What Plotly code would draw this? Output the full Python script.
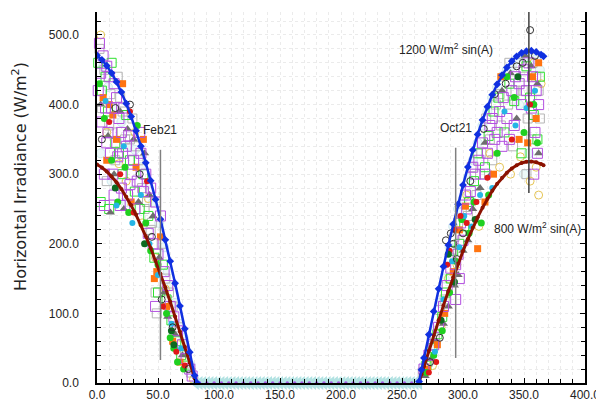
import plotly.graph_objects as go

# ---------------- data ----------------
# model curves: 1200 W/m2 sin(A) and 800 W/m2 sin(A)
left_days = [0, 4, 8, 12, 16, 20, 24, 28, 32, 36, 40, 44, 48, 52, 56, 60, 64, 68, 72, 76, 80, 82]
left_blue = [470.7, 464.3, 455.8, 445.2, 432.6, 418.0, 401.4, 382.8, 362.4, 340.2, 316.3, 290.7,
             263.7, 235.4, 205.7, 175.0, 143.3, 110.8, 77.8, 44.3, 10.6, 0.0]
left_red = [313.8, 309.5, 303.9, 296.8, 288.4, 278.7, 267.6, 255.2, 241.6, 226.8, 210.8, 193.8,
            175.8, 156.9, 137.1, 116.6, 95.5, 73.9, 51.9, 29.5, 7.0, 0.0]

right_days = [264, 266, 268, 272, 276, 280, 284, 288, 292, 296, 300, 304, 308, 312, 316, 320,
              324, 328, 332, 336, 340, 344, 348, 352, 356, 360, 364, 366]
right_blue = [2.1, 19.0, 36.0, 69.6, 102.8, 135.3, 167.3, 198.2, 228.2, 256.8, 284.3, 310.2,
              334.6, 357.1, 377.9, 396.9, 414.1, 429.2, 442.3, 453.3, 462.4, 469.3, 474.1,
              476.7, 477.3, 475.7, 471.9, 469.3]
right_red = [1.4, 12.7, 24.0, 46.4, 68.5, 90.2, 111.5, 132.1, 152.1, 171.2, 189.5, 206.8,
             223.0, 238.0, 251.9, 264.6, 276.1, 286.1, 294.9, 302.2, 308.2, 312.9, 316.1,
             317.8, 318.2, 317.1, 314.6, 312.9]

# polar night: measured zeros
zero_days = [81, 84, 87, 90, 93, 96, 99, 102, 105, 108, 111, 114, 117, 120, 123, 126, 129, 132,
             135, 138, 141, 144, 147, 150, 153, 156, 159, 162, 165, 168, 171, 174, 177, 180, 183,
             186, 189, 192, 195, 198, 201, 204, 207, 210, 213, 216, 219, 222, 225, 228, 231, 234,
             237, 240, 243, 246, 249, 252, 255, 258, 261, 264]
zero_vals = [0, 0, 0, 0, 0, 0, 0, 0, 0, 0, 0, 0, 0, 0, 0, 0, 0, 0, 0, 0, 0, 0, 0, 0, 0, 0, 0, 0,
             0, 0, 0, 0, 0, 0, 0, 0, 0, 0, 0, 0, 0, 0, 0, 0, 0, 0, 0, 0, 0, 0, 0, 0, 0, 0, 0, 0,
             0, 0, 0, 0, 0, 0]
zero_days2 = [84, 90, 96, 102, 108, 114, 120, 126, 132, 138, 144, 150, 156, 162, 168, 174, 180,
              186, 192, 198, 204, 210, 216, 222, 228, 234, 240, 246, 252, 258]
zero_vals2 = [0, 0, 0, 0, 0, 0, 0, 0, 0, 0, 0, 0, 0, 0, 0, 0, 0, 0, 0, 0, 0, 0, 0, 0, 0, 0, 0, 0, 0, 0]

# measured data (day, W/m2), one list per marker style
pale_circles = [(5, 455), (9, 425), (14, 395), (20, 375), (26, 340), (31, 335), (36, 310), (41, 285),
                (46, 260), (51, 230), (55, 195), (58, 160), (61, 140), (64, 115), (68, 85), (71, 65),
                (74, 45), (77, 25), (3, 330), (12, 290), (24, 260),
                (268, 25), (273, 50), (277, 75), (281, 115), (285, 150), (289, 195), (292, 225),
                (296, 250), (300, 265), (304, 295), (308, 320), (312, 345), (316, 370), (320, 390),
                (324, 410), (328, 425), (332, 440), (336, 450), (340, 455), (344, 465), (348, 470),
                (352, 470), (356, 470), (360, 465), (363, 450), (346, 400), (354, 330), (350, 300)]
gray_squares = [(2, 480), (6, 450), (11, 415), (17, 440), (13, 360), (19, 410), (23, 350), (29, 380),
                (32, 340), (37, 280), (41, 260), (45, 230), (48, 130), (49, 100), (53, 200), (56, 150),
                (59, 130), (62, 110), (67, 80), (72, 45), (77, 15), (8, 290),
                (4, 395), (10, 370), (15, 320), (21, 390), (27, 350), (34, 320), (39, 250), (44, 220),
                (267, 15), (271, 30), (277, 65), (281, 105), (285, 120), (289, 180), (293, 210),
                (296, 230), (299, 245), (304, 240), (307, 310), (311, 270), (315, 330), (319, 380),
                (324, 320), (327, 400), (331, 370), (337, 400), (341, 340), (345, 460), (349, 420),
                (353, 380), (357, 460), (360, 440), (363, 380), (352, 300),
                (314, 300), (322, 350), (330, 415), (338, 460), (343, 420), (350, 440), (356, 350),
                (362, 420)]
green_squares = [(1, 460), (4, 420), (7, 440), (9, 390), (12, 460), (15, 345), (18, 330), (21, 300),
                 (24, 385), (27, 320), (31, 275), (35, 250), (38, 300), (42, 240), (47, 180), (50, 130),
                 (54, 170), (57, 120), (61, 90), (65, 60), (69, 40), (74, 25), (3, 260), (10, 250),
                 (270, 25), (275, 50), (279, 70), (283, 95), (286, 130), (290, 150), (292, 190),
                 (297, 200), (301, 225), (305, 260), (309, 290), (312, 330), (318, 310), (321, 355),
                 (325, 390), (329, 410), (334, 360), (338, 430), (342, 405), (348, 330), (352, 455),
                 (355, 410), (358, 385), (361, 350), (363, 440)]
purple_squares = [(2, 488), (5, 470), (8, 455), (10, 440), (12, 395), (14, 430), (16, 410), (4, 375),
                  (8, 345), (11, 330), (18, 380), (20, 360), (22, 395), (24, 340), (26, 355), (28, 300),
                  (30, 320), (20, 280), (14, 270), (33, 290), (36, 330), (40, 300), (44, 280),
                  (48, 260), (52, 240), (46, 200), (50, 185), (48, 110), (55, 160), (58, 140),
                  (60, 110), (63, 95), (66, 75), (70, 55), (73, 35), (76, 20), (78, 10), (6, 300),
                  (25, 270), (1, 420), (3, 445), (7, 395), (9, 360), (13, 300), (17, 325), (21, 330),
                  (27, 285), (31, 250), (35, 360), (38, 275), (42, 215), (6, 255), (19, 255),
                  (268, 20), (272, 40), (276, 55), (280, 80), (284, 110), (287, 140), (290, 165),
                  (294, 170), (296, 185), (298, 230), (300, 205), (303, 250), (306, 275), (310, 300),
                  (313, 320), (316, 345), (320, 330), (322, 370), (326, 350), (330, 390), (333, 410),
                  (336, 380), (340, 420), (343, 440), (346, 430), (350, 450), (354, 460), (357, 440),
                  (360, 420), (362, 400), (359, 360), (356, 395), (294, 120), (297, 150),
                  (302, 270), (308, 310), (318, 300), (324, 380), (328, 360), (332, 340), (338, 350),
                  (342, 370), (348, 400), (352, 420), (358, 300), (361, 330)]
gray_triangles = [(3, 400), (9, 355), (14, 300), (19, 390), (25, 365), (30, 350), (34, 260), (39, 330),
                  (43, 270), (46, 240), (51, 180), (55, 130), (58, 95), (64, 70), (70, 40), (11, 245),
                  (22, 250),
                  (269, 10), (274, 35), (278, 60), (284, 85), (288, 110), (293, 140), (296, 155),
                  (300, 190), (304, 205), (308, 250), (314, 280), (318, 345), (323, 300), (332, 420),
                  (339, 445), (344, 380), (351, 470), (356, 455), (361, 430), (362, 330)]
orange_squares = [(5, 410), (10, 400), (13, 385), (16, 350), (21, 430), (8, 320), (28, 260), (32, 310),
                  (38, 350), (47, 150), (49, 160), (52, 210), (57, 110), (62, 60), (68, 30),
                  (271, 20), (279, 55), (285, 100), (292, 160), (297, 220), (302, 254), (312, 193),
                  (318, 260), (325, 300), (331, 440), (346, 350), (353, 345), (357, 440), (360, 380),
                  (362, 460)]
green_dots = [(2, 430), (6, 380), (12, 320), (17, 260), (23, 310), (26, 245), (33, 370), (40, 230),
              (44, 190), (50, 170), (57, 100), (60, 65), (63, 50), (66, 30), (71, 20),
              (270, 15), (276, 40), (283, 75), (289, 130), (294, 175), (299, 235), (305, 215),
              (309, 260), (315, 230), (321, 270), (328, 330), (336, 440), (342, 410), (350, 360),
              (358, 400), (361, 345)]
black_circles = [(4, 350), (15, 395), (27, 400), (35, 300), (45, 210), (53, 120), (62, 80), (75, 20),
                 (273, 30), (281, 65), (286, 205), (290, 215), (292, 200), (295, 178), (300, 215),
                 (306, 290), (317, 365), (326, 415), (335, 430), (344, 455), (349, 460), (355, 507),
                 (359, 470)]
gold_circles = [(3, 500), (8, 360), (18, 315), (24, 290), (31, 360), (37, 230), (42, 265), (48, 180),
                (56, 135), (67, 55), (79, 5),
                (275, 25), (282, 80), (288, 150), (295, 170), (303, 270), (313, 225), (322, 330),
                (330, 310), (339, 300), (347, 325), (355, 290), (360, 310), (362, 270), (358, 460),
                (364, 430)]
cyan_dots = [(7, 405), (16, 255), (22, 340), (29, 230), (36, 270), (43, 200), (50, 155), (61, 85),
             (69, 50),
             (277, 45), (284, 120), (291, 175), (297, 195), (301, 240), (307, 225), (314, 270),
             (324, 280), (334, 390), (343, 370), (352, 395), (359, 420)]
red_dots = [(10, 375), (19, 300), (27, 390), (30, 245), (41, 290), (54, 110), (65, 45), (72, 25),
            (272, 15), (278, 30), (287, 170), (289, 190), (293, 220), (298, 240), (303, 230),
            (311, 260), (320, 295), (340, 350), (355, 400)]
darkgreen_dots = [(15, 280), (39, 200), (61, 75), (63, 55), (282, 90), (288, 185), (293, 145),
                  (310, 235), (345, 440)]

# date markers
event_days = [52, 294, 354]
event_low = [33, 36, 273]
event_high = [335, 338, 533]
event_labels = ["Feb21", "Oct21", ""]
event_label_y = [364, 366, 0]
event_colors = ["#808080", "#808080", "#404040"]

curve_labels = ["1200 W/m<sup>2</sup> sin(A)", "800 W/m<sup>2</sup> sin(A)"]
curve_label_x = [286, 361]
curve_label_y = [480, 223]

y_title = "Horizontal Irradiance (W/m<sup>2</sup>)"

x_ticks = [0, 50, 100, 150, 200, 250, 300, 350, 400]
y_ticks = [0, 100, 200, 300, 400, 500]

# ---------------- figure ----------------
fig = go.Figure()

fig.add_trace(go.Scatter(x=zero_days, y=zero_vals, mode="markers",
                         marker=dict(symbol="triangle-left", size=12, color="#b2e2e2"),
                         cliponaxis=False, hoverinfo="skip"))
fig.add_trace(go.Scatter(x=zero_days2, y=zero_vals2, mode="markers",
                         marker=dict(symbol="circle", size=3.5, color="#a458e0"),
                         cliponaxis=False, hoverinfo="skip"))


def add_points(pts, symbol, size, color, line_color=None, line_width=1.2):
    xs = [p[0] for p in pts]
    ys = [p[1] for p in pts]
    mk = dict(symbol=symbol, size=size, color=color)
    if line_color is not None:
        mk["line"] = dict(color=line_color, width=line_width)
    fig.add_trace(go.Scatter(x=xs, y=ys, mode="markers", marker=mk, cliponaxis=False))


add_points(pale_circles, "circle", 9, "rgba(235,248,248,0.9)", "#cde8ee", 1)
add_points(gray_squares, "square-open", 9, "#b5b5b5", None)
add_points(gold_circles, "circle-open", 8, "#e6c555", None)
add_points(green_squares, "square-open", 9, "#2fe02f", None)
add_points(gray_triangles, "triangle-up", 8, "#6e6e6e", None)
add_points(orange_squares, "square", 7, "#ff7410", None)
add_points(purple_squares, "square-open", 10, "#b34fe0", None)
add_points(green_dots, "circle", 7, "#20d020", None)
add_points(cyan_dots, "circle", 6, "#25b5e5", None)
add_points(red_dots, "circle", 6, "#e01818", None)
add_points(darkgreen_dots, "circle", 7, "#0c6a20", None)
add_points(black_circles, "circle-open", 7, "#303030", None)

# model curves
for xs, ys in ((left_days, left_red), (right_days, right_red)):
    fig.add_trace(go.Scatter(x=xs, y=ys, mode="lines+markers",
                             line=dict(color="#8b1200", width=3),
                             marker=dict(symbol="circle", size=4, color="#8b1200")))
for xs, ys in ((left_days, left_blue), (right_days, right_blue)):
    fig.add_trace(go.Scatter(x=xs, y=ys, mode="lines+markers",
                             line=dict(color="#1030e0", width=2.5),
                             marker=dict(symbol="diamond", size=6, color="#1030e0")))

# date lines
for d, lo, hi, c in zip(event_days, event_low, event_high, event_colors):
    fig.add_trace(go.Scatter(x=[d, d], y=[lo, hi], mode="lines",
                             line=dict(color=c, width=1.5), cliponaxis=False))

for d, lab, ly in zip(event_days, event_labels, event_label_y):
    if lab:
        fig.add_annotation(x=d, y=ly, text=lab, showarrow=False,
                           font=dict(size=12, color="#222222"))

for lab, lx, ly in zip(curve_labels, curve_label_x, curve_label_y):
    fig.add_annotation(x=lx, y=ly, text=lab, showarrow=False,
                       font=dict(size=12, color="#222222"))

# y-axis title (placed as a rotated annotation to match its position)
fig.add_annotation(text=y_title, textangle=-90, showarrow=False,
                   xref="paper", yref="paper", x=-0.158, y=0.558,
                   xanchor="center", yanchor="middle",
                   font=dict(family="DejaVu Sans, sans-serif", size=16, color="#222222"))

font_family = "Liberation Sans, Arial, sans-serif"

# the page body adds an 8 px offset, so the figure is 8 px smaller than the window
fig.update_layout(
    width=596, height=406,
    margin=dict(l=89, r=19, t=4, b=31),
    paper_bgcolor="white", plot_bgcolor="white",
    showlegend=False,
    font=dict(family=font_family, size=12, color="#222222"),
)

fig.update_xaxes(
    range=[0, 400], tickvals=x_ticks, ticktext=[f"{v:.1f}" for v in x_ticks],
    ticks="inside", ticklen=5, tickcolor="black", tickwidth=1,
    minor=dict(dtick=10, ticks="inside", ticklen=4, tickcolor="black",
               showgrid=True, gridcolor="#ebebeb", griddash="dot"),
    showline=True, linecolor="black", linewidth=1.5,
    showgrid=True, gridcolor="#ebebeb", griddash="dot",
    zeroline=False, tickfont=dict(size=12, color="#222222"),
    automargin=False,
)
fig.update_yaxes(
    range=[0, 533], tickvals=y_ticks, ticktext=[f"{v:.1f}" for v in y_ticks],
    ticks="inside", ticklen=5, tickcolor="black", tickwidth=1,
    minor=dict(dtick=20, ticks="inside", ticklen=4, tickcolor="black",
               showgrid=True, gridcolor="#ebebeb", griddash="dot"),
    showline=True, linecolor="black", linewidth=1.5, mirror="ticks",
    showgrid=True, gridcolor="#ebebeb", griddash="dot",
    zeroline=False, tickfont=dict(size=12, color="#222222"),
    ticklabelstandoff=14, automargin=False,
)

fig.write_html("out.html")
